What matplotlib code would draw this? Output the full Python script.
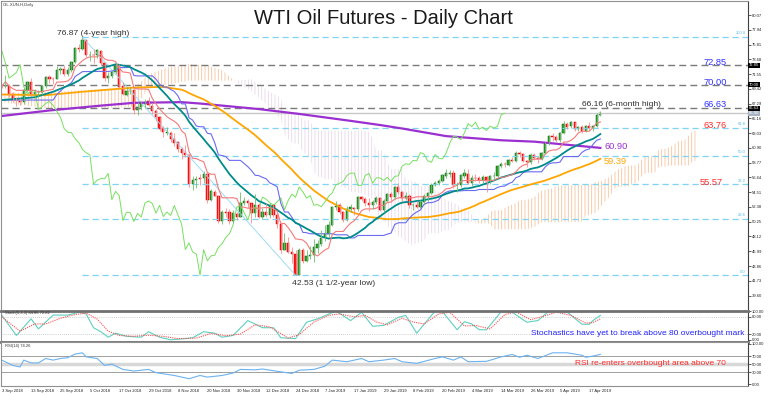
import numpy as np
import pandas as pd
import matplotlib
matplotlib.use("Agg")
import matplotlib.pyplot as plt

plt.rcParams['font.family'] = ['Liberation Sans', 'DejaVu Sans']
plt.rcParams['hatch.linewidth'] = 0.6

# daily bars 3 Sep 2018 .. 23 Apr 2019 (holidays 25 Dec, 1 Jan, 19 Apr skipped)
opens = [69.90, 69.80, 69.90, 68.70, 67.80, 67.70, 67.50, 69.20, 70.40, 68.60,
         68.90, 68.90, 69.80, 71.10, 70.80, 70.90, 72.10, 72.30, 71.60, 72.10,
         73.30, 75.30, 75.20, 76.40, 74.30, 74.30, 74.30, 74.90, 73.10, 71.00,
         71.30, 71.80, 72.90, 69.80, 68.60, 69.10, 69.20, 66.40, 66.80, 67.30,
         67.60, 67.00, 66.20, 65.30, 63.70, 63.10, 63.10, 62.20, 61.70, 60.70,
         60.20, 59.90, 55.70, 56.20, 56.50, 56.50, 57.20, 53.40, 54.60, 54.00,
         50.40, 51.60, 51.60, 50.30, 51.40, 51.00, 53.00, 53.20, 52.90, 51.50,
         52.60, 51.00, 51.70, 51.20, 52.60, 51.20, 49.90, 46.20, 47.20, 45.90,
         45.60, 42.60, 46.20, 44.60, 45.30, 45.40, 46.50, 47.10, 48.00, 48.50,
         49.80, 52.40, 52.60, 51.60, 50.50, 52.10, 52.30, 52.10, 53.80, 53.50,
         53.00, 52.60, 53.10, 53.70, 52.00, 53.30, 54.20, 53.80, 55.30, 54.60,
         53.70, 54.00, 52.60, 52.70, 52.40, 53.10, 53.90, 54.40, 55.60, 55.80,
         56.10, 56.90, 57.20, 57.30, 55.50, 55.50, 56.90, 57.20, 55.80, 56.60,
         56.60, 56.20, 56.70, 56.10, 56.80, 56.90, 58.30, 58.60, 58.50, 59.10,
         59.00, 60.20, 60.00, 59.00, 58.80, 59.90, 59.40, 59.30, 60.10, 61.60,
         62.60, 62.50, 62.10, 63.10, 64.40, 64.00, 64.60, 63.60, 63.90, 63.40,
         64.10, 63.80, 64.00, 65.70]
highs = [70.10, 71.40, 70.10, 69.00, 68.30, 68.10, 69.50, 70.60, 71.00, 69.40,
         69.20, 70.00, 71.30, 71.40, 71.10, 72.70, 72.50, 72.80, 72.50, 73.50,
         75.50, 75.90, 76.87, 76.50, 74.90, 75.10, 75.20, 75.00, 73.30, 71.90,
         72.20, 73.10, 72.95, 70.40, 69.70, 69.70, 69.40, 67.50, 67.60, 67.90,
         68.30, 67.40, 66.50, 65.40, 64.00, 63.90, 63.40, 63.00, 61.80, 61.10,
         61.30, 60.00, 56.90, 56.80, 57.10, 57.50, 57.30, 54.90, 54.80, 54.10,
         51.90, 52.20, 52.10, 51.90, 51.60, 54.50, 53.80, 53.50, 53.00, 54.20,
         53.00, 52.20, 53.00, 52.90, 52.70, 51.80, 50.00, 48.60, 48.10, 46.60,
         46.20, 46.40, 46.40, 46.20, 46.70, 47.80, 47.60, 49.00, 49.80, 50.30,
         52.50, 53.30, 52.90, 51.80, 52.50, 52.80, 52.40, 54.00, 54.00, 53.80,
         53.60, 53.40, 53.90, 53.80, 53.50, 54.40, 54.60, 55.40, 55.80, 54.70,
         54.60, 54.20, 52.90, 53.20, 53.40, 54.30, 54.60, 55.80, 56.10, 56.40,
         57.10, 57.80, 57.70, 57.70, 56.00, 57.10, 57.90, 57.90, 57.00, 57.10,
         56.80, 57.00, 56.80, 57.00, 57.40, 58.50, 58.80, 58.90, 59.30, 59.60,
         60.40, 60.40, 60.20, 59.20, 60.10, 60.20, 59.70, 60.30, 61.80, 62.70,
         63.00, 62.70, 63.20, 64.80, 64.70, 64.80, 64.70, 64.10, 64.20, 64.20,
         64.60, 64.10, 65.90, 66.16]
lows = [69.50, 69.60, 68.30, 67.50, 67.00, 67.10, 67.30, 68.90, 68.40, 68.10,
        68.30, 68.50, 69.50, 70.20, 70.10, 70.80, 71.60, 71.20, 71.20, 71.90,
        73.10, 74.70, 75.00, 74.00, 73.50, 73.10, 73.90, 72.90, 70.60, 70.20,
        71.00, 71.60, 69.60, 68.50, 68.40, 68.70, 65.80, 65.70, 66.30, 66.70,
        66.90, 65.80, 64.80, 63.30, 62.50, 62.80, 61.80, 61.20, 60.30, 59.30,
        59.60, 55.30, 54.80, 55.10, 55.60, 55.90, 52.90, 53.30, 53.90, 50.10,
        49.90, 50.90, 49.90, 50.00, 50.50, 50.90, 52.60, 52.20, 50.10, 51.00,
        50.80, 50.70, 50.90, 50.80, 50.90, 49.30, 45.80, 46.10, 45.80, 44.30,
        42.53, 42.60, 44.30, 44.40, 44.90, 44.40, 45.70, 46.80, 47.50, 48.10,
        49.70, 51.90, 51.30, 50.20, 50.40, 51.70, 51.20, 51.80, 53.30, 52.50,
        51.80, 52.10, 52.80, 51.80, 51.60, 53.20, 53.10, 53.50, 54.20, 53.30,
        53.40, 52.30, 51.90, 52.20, 52.30, 52.80, 53.20, 54.30, 55.40, 55.50,
        56.00, 56.60, 56.70, 55.10, 54.50, 55.30, 56.60, 55.70, 55.40, 56.10,
        55.80, 55.80, 54.50, 55.70, 56.40, 56.70, 58.00, 58.10, 58.30, 58.80,
        58.90, 59.60, 58.90, 58.20, 58.60, 59.10, 58.70, 59.20, 60.00, 61.30,
        61.90, 61.80, 61.80, 62.90, 63.60, 63.80, 63.40, 63.40, 63.10, 63.20,
        63.50, 63.40, 63.90, 65.50]
closes = [69.80, 69.87, 68.72, 67.77, 67.75, 67.54, 69.25, 70.37, 68.59, 68.99,
          68.91, 69.85, 71.12, 70.80, 70.78, 72.08, 72.28, 71.57, 72.12, 73.25,
          75.30, 75.23, 76.41, 74.33, 74.34, 74.29, 74.96, 73.17, 70.97, 71.34,
          71.78, 72.92, 69.75, 68.65, 69.12, 69.17, 66.43, 66.82, 67.33, 67.59,
          67.04, 66.18, 65.31, 63.69, 63.14, 63.10, 62.21, 61.67, 60.67, 60.19,
          59.93, 55.69, 56.25, 56.46, 56.46, 57.20, 53.43, 54.63, 54.00, 50.42,
          51.63, 51.56, 50.29, 51.45, 50.93, 52.95, 53.25, 52.89, 51.49, 52.61,
          51.00, 51.65, 51.15, 52.58, 51.20, 49.88, 46.24, 47.20, 45.88, 45.59,
          42.53, 46.22, 44.61, 45.33, 45.41, 46.54, 47.09, 47.96, 48.52, 49.78,
          52.36, 52.59, 51.59, 50.51, 52.11, 52.31, 52.07, 53.80, 53.50, 53.01,
          52.62, 53.13, 53.69, 51.99, 53.31, 54.23, 53.79, 55.26, 54.56, 53.66,
          54.01, 52.64, 52.72, 52.41, 53.10, 53.90, 54.41, 55.59, 55.80, 56.09,
          56.92, 57.26, 57.26, 55.48, 55.50, 56.94, 57.22, 55.80, 56.59, 56.56,
          56.22, 56.66, 56.07, 56.79, 56.87, 58.26, 58.61, 58.52, 59.09, 59.03,
          60.23, 59.98, 59.04, 58.82, 59.94, 59.41, 59.30, 60.14, 61.59, 62.58,
          62.46, 62.10, 63.08, 64.40, 63.98, 64.61, 63.58, 63.89, 63.40, 64.05,
          63.76, 64.00, 65.70, 65.90]

date_labels = ["3 Sep 2018", "13 Sep 2018", "25 Sep 2018", "5 Oct 2018", "17 Oct 2018",
               "29 Oct 2018", "8 Nov 2018", "20 Nov 2018", "30 Nov 2018", "12 Dec 2018",
               "24 Dec 2018", "7 Jan 2019", "17 Jan 2019", "29 Jan 2019", "8 Feb 2019",
               "20 Feb 2019", "4 Mar 2019", "14 Mar 2019", "26 Mar 2019", "5 Apr 2019",
               "17 Apr 2019"]

sma20_head_bars = [0, 9, 14]
sma20_head = [67.8, 68.2, 69.0]
sma50_head_bars = [0, 12, 22, 36, 44]
sma50_head = [68.6, 68.5, 69.0, 69.6, 69.7]
kijun_head_bars = [0, 14, 15, 17, 19, 20, 22]
kijun_head = [67.8, 67.8, 68.6, 69.6, 70.3, 71.2, 71.9]
sma200_bars = [0, 13, 27, 36, 49, 54, 70, 81, 95, 103, 109, 121, 136, 145, 157, 163]
sma200 = [65.5, 66.3, 67.0, 67.4, 67.5, 67.3, 66.5, 65.8, 64.8, 64.2, 63.7, 62.6, 62.0, 61.8, 61.2, 60.9]
cloud_head_bars = [0, 12, 24, 36, 38, 40, 45, 48, 51, 56, 60, 64, 68, 72, 76]
span_a_head = [68.8, 69.0, 69.3, 69.6, 70.5, 71.5, 72.5, 72.7, 73.0, 72.8, 72.1, 70.3, 69.1, 67.2, 65.1]
span_b_head = [67.5, 66.6, 66.6, 66.8, 68.0, 69.5, 70.0, 70.3, 70.6, 70.6, 70.6, 70.6, 70.8, 69.3, 68.1]

stoch_k_bars = [0, 4, 8, 10, 14, 18, 21, 23, 25, 27, 29, 31, 34, 38, 40, 43, 46, 50, 52, 55,
                58, 60, 63, 67, 71, 74, 76, 80, 83, 86, 91, 95, 98, 101, 104, 108, 110, 113, 118, 120,
                124, 126, 128, 130, 132, 136, 139, 143, 146, 149, 154, 158, 160, 161, 163]
stoch_k = [86, 15, 73, 38, 86, 86, 96, 90, 42, 28, 9, 23, 12, 9, 28, 9, 0, 4, 7, 28,
           23, 9, 15, 67, 42, 42, 7, 4, 61, 73, 100, 67, 96, 47, 50, 78, 85, 23, 100, 98,
           35, 63, 55, 35, 35, 98, 96, 61, 67, 100, 96, 54, 54, 67, 84.86]
stoch_d_bars = [0, 5, 9, 12, 16, 20, 23, 26, 29, 32, 36, 40, 44, 48, 53, 57, 61, 65, 69, 73,
                78, 81, 85, 89, 92, 96, 99, 102, 105, 109, 112, 115, 119, 122, 126, 129, 133, 137, 140, 144,
                147, 151, 155, 159, 161, 163]
stoch_d = [80, 30, 55, 55, 75, 88, 93, 72, 30, 15, 12, 16, 12, 4, 6, 22, 14, 20, 52, 45,
           6, 18, 62, 85, 90, 80, 85, 62, 52, 75, 62, 55, 90, 96, 48, 50, 38, 88, 97, 70,
           80, 96, 85, 58, 60, 72.82]
rsi_bars = [0, 3, 5, 6, 8, 10, 12, 14, 16, 18, 20, 22, 23, 26, 28, 30, 33, 36, 40, 42,
            47, 51, 54, 56, 60, 63, 65, 69, 71, 76, 79, 81, 85, 88, 90, 94, 98, 100, 104, 107,
            109, 113, 118, 120, 123, 125, 127, 132, 136, 139, 141, 143, 146, 150, 154, 158, 159, 161, 163]
rsi = [60, 47, 43, 60, 53, 53, 64, 60, 64, 66, 75, 78, 68, 64, 47, 50, 37, 33, 37, 29,
       22, 14, 22, 18, 22, 28, 37, 36, 38, 31, 27, 35, 37, 45, 60, 56, 64, 56, 60, 64,
       56, 52, 64, 68, 60, 68, 56, 57, 68, 74, 67, 72, 64, 78, 78, 72, 67, 70, 74.26]

key_levels = [72.85, 70.00, 66.63]
fib_ratios = [1.0, 0.618, 0.5, 0.382, 0.236, 0.0]
fib_names = ["100.0", "61.8", "50.0", "38.2", "23.6", "0.0"]
price_ticks = [80.07, 77.94, 75.81, 73.68, 71.55, 69.42, 67.29, 65.16, 63.03, 60.90,
               58.77, 56.64, 54.51, 52.38, 50.25, 48.12, 45.99, 43.86, 41.73, 39.60]

o = np.array(opens); h = np.array(highs); l = np.array(lows); c = np.array(closes)
n = len(c)
idx = np.arange(n)
hs = pd.Series(h); ls = pd.Series(l); cs = pd.Series(c)

tenkan = (hs.rolling(9, min_periods=1).max() + ls.rolling(9, min_periods=1).min()) / 2
kijun = (hs.rolling(26).max() + ls.rolling(26).min()) / 2
sma20 = cs.rolling(20).mean()
sma50 = cs.rolling(50).mean()
span_a = (tenkan + kijun) / 2
span_b = (hs.rolling(52).max() + ls.rolling(52).min()) / 2

fig = plt.figure(figsize=(7.68, 3.95), dpi=100)
W, H = 768.0, 395.0


def panel(top, bottom):
    return [1 / W, (H - bottom) / H, 747 / W, (bottom - top) / H]


ax = fig.add_axes(panel(1, 309))
ax_st = fig.add_axes(panel(310.5, 341.5))
ax_rsi = fig.add_axes(panel(341.5, 386))

for a in (ax, ax_st, ax_rsi):
    a.set_xlim(-0.19, 203.2)
    for s in a.spines.values():
        s.set_color('#909090')
        s.set_linewidth(0.8)
    a.spines['right'].set_color('#404040')
    a.yaxis.tick_right()
    a.tick_params(axis='y', direction='out', length=2, width=0.5, pad=1,
                  labelsize=3, colors='#202020')
    a.tick_params(axis='x', length=0, labelbottom=False)

ax.set_ylim(37.66, 82.09)
ax.spines['bottom'].set_visible(False)
ax.set_yticks(price_ticks)
ax.set_yticklabels(['%.2f' % v for v in price_ticks])

# ichimoku cloud
cx = list(cloud_head_bars) + list(idx[51:] + 26)
ca = np.array(span_a_head + list(span_a[51:]))
cb = np.array(span_b_head + list(span_b[51:]))
ax.fill_between(cx, ca, cb, where=ca >= cb, interpolate=True, facecolor='none',
                edgecolor='#f7c29c', hatch='|||||', linewidth=0)
ax.fill_between(cx, ca, cb, where=ca < cb, interpolate=True, facecolor='none',
                edgecolor='#e8d8e8', hatch='|||||', linewidth=0)

# horizontal levels
for lv in key_levels:
    ax.axhline(lv, color='#7a7a7a', lw=1.0, dashes=(5, 3))
ax.axhline(c[-1], color='#c8c8c8', lw=1.0)

peak_i = int(np.argmax(h)); low_i = int(np.argmin(l))
top, bot = h[peak_i], l[low_i]
for r, name in zip(fib_ratios, fib_names):
    lv = bot + r * (top - bot)
    ax.plot([peak_i, 203.2], [lv, lv], color='#7fd4f4', lw=0.9, dashes=(5, 3))
    ax.text(202.6, lv + 0.25, name, fontsize=3, color='#55bbee', ha='right', va='bottom')
ax.plot([peak_i, low_i], [top, bot], color='#9fdcf6', lw=0.7)

# moving averages and ichimoku lines
ax.plot(sma200_bars, sma200, color='#9b30d0', lw=1.6)
ax.plot(sma50_head_bars + list(idx[49:]), sma50_head + list(sma50[49:]), color='#ffa500', lw=1.3)
ax.plot(idx[:-26], c[26:], color='#77e060', lw=0.7)
ax.plot(kijun_head_bars + list(idx[25:]), kijun_head + list(kijun[25:]), color='#6b6bf0', lw=0.8)
ax.plot(sma20_head_bars + list(idx[19:]), sma20_head + list(sma20[19:]), color='#008b8b', lw=1.3)
ax.plot(idx, tenkan, color='#f47a7a', lw=0.8)

# candles
up = c >= o
ax.vlines(idx, l, h, colors=np.where(up, '#6cc06c', '#ff8c8c'), lw=0.6)
body = np.maximum(np.abs(c - o), 0.06)
ax.bar(idx, body, bottom=np.minimum(o, c), width=0.62,
       color=np.where(up, '#2ea02e', '#ff1a1a'),
       edgecolor=np.where(up, '#0b5d0b', '#d00000'), lw=0.35)

# right axis boxes
yt = ax.get_yaxis_transform()
for lv in key_levels:
    ax.text(1.0012, lv, '%.2f' % lv, transform=yt, fontsize=3, color='white', ha='left',
            va='center', bbox=dict(boxstyle='square,pad=0.12', fc='black', ec='none'))
ax.text(1.0012, c[-1], '%.2f' % c[-1], transform=yt, fontsize=3, color='white', ha='left',
        va='center', bbox=dict(boxstyle='square,pad=0.12', fc='#a8b4c4', ec='none'))

# labels
ax.text(191, 73.29, '72.85', fontsize=6.7, color='#3030ff', va='center')
ax.text(191, 70.40, '70.00', fontsize=6.7, color='#3030ff', va='center')
ax.text(191, 67.09, '66.63', fontsize=6.7, color='#3030ff', va='center')
ax.text(191, 64.20, '63.76', fontsize=6.7, color='#ff2a2a', va='center')
ax.text(164, 61.03, '60.90', fontsize=6.7, color='#9b30d0', va='center')
ax.text(164, 58.87, '59.39', fontsize=6.7, color='#ffa500', va='center')
ax.text(190.1, 55.98, '55.57', fontsize=6.7, color='#ff2a2a', va='center')
ax.text(15.1, 77.47, '76.87 (4-year high)', fontsize=6.1, color='#303030', va='center')
ax.text(158, 67.23, '66.16 (6-month high)', fontsize=6.1, color='#303030', va='center')
ax.text(79, 41.41, '42.53 (1 1/2-year low)', fontsize=6.1, color='#303030', va='center')

fig.text(383 / W, 1 - 18 / H, 'WTI Oil Futures - Daily Chart', ha='center', va='center',
         fontsize=14.5, color='#1a1a1a')
fig.text(3 / W, 1 - 5 / H, 'OIL.XUN.H,Daily', fontsize=3, color='#333333', va='center')

# stochastic panel
ax_st.set_ylim(-6, 102)
ax_st.spines['top'].set_linewidth(2); ax_st.spines['top'].set_color('#707070')
ax_st.spines['bottom'].set_linewidth(2); ax_st.spines['bottom'].set_color('#707070')
ax_st.set_yticks([100, 80, 20, 0])
ax_st.set_yticklabels(['100.00', '80.00', '20.00', '0.00'])
for lv in (80, 20):
    ax_st.axhline(lv, color='#c0c0c0', lw=0.6, ls=(0, (1, 1.5)))
ax_st.plot(stoch_k_bars, stoch_k, color='#5fd0c0', lw=0.8)
ax_st.plot(stoch_d_bars, stoch_d, color='#ff5050', lw=0.8, ls=(0, (1, 1)))
ax_st.text(1, 94, 'Stoch(5,3,3) 84.86 72.82', fontsize=3, color='#303030', va='center')
ax_st.text(144, 22, 'Stochastics have yet to break above 80 overbought mark',
           fontsize=6, color='#2525ff', va='center')

# rsi panel
ax_rsi.set_ylim(-4, 106)
ax_rsi.set_yticks([100, 70, 50, 30, 0])
ax_rsi.set_yticklabels(['100.00', '70.00', '50.00', '30.00', '0.00'])
ax_rsi.axhline(70, color='#a0a0a0', lw=0.7)
ax_rsi.axhline(30, color='#a0a0a0', lw=0.7)
ax_rsi.axhline(50, color='#d8d8d8', lw=2.5)
ax_rsi.plot(rsi_bars, rsi, color='#6cb2f0', lw=0.8)
ax_rsi.text(1, 94, 'RSI(14) 74.26', fontsize=3, color='#303030', va='center')
ax_rsi.text(156.2, 52, 'RSI re-enters overbought area above 70', fontsize=6,
            color='#ff2a2a', va='center')

ax_rsi.set_xticks(list(range(0, 161, 8)))
ax_rsi.set_xticklabels(date_labels)
ax_rsi.tick_params(axis='x', length=0, labelbottom=True, labelsize=3, pad=2.5, colors='#202020')
for t in ax_rsi.get_xticklabels():
    t.set_ha('left')

fig.savefig('out.png', dpi=100)
